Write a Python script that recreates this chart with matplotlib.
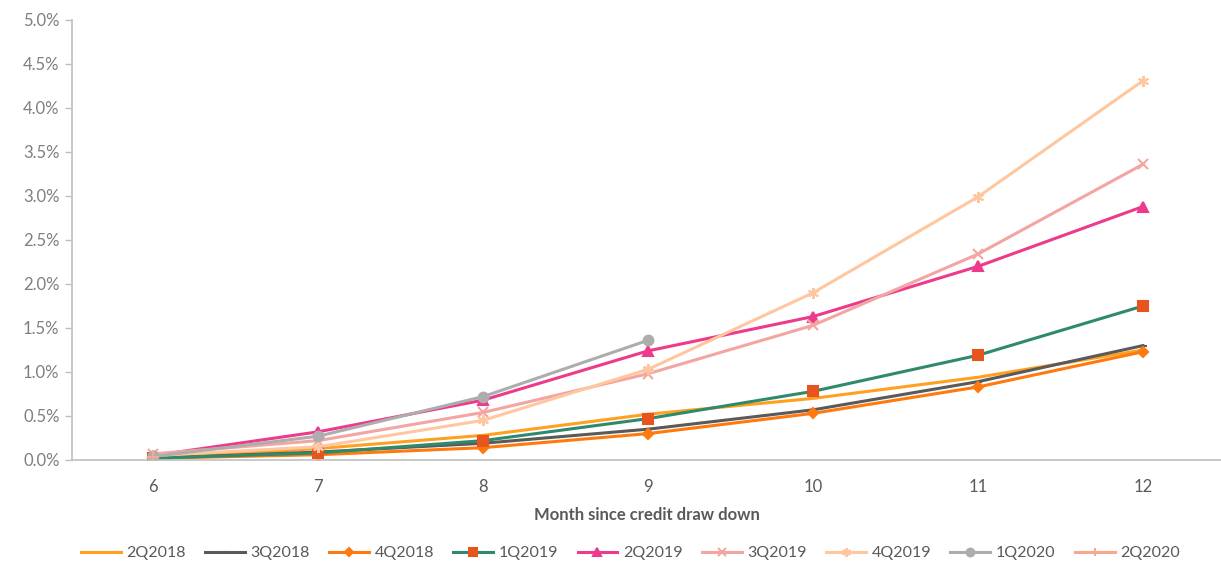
import matplotlib.pyplot as plt
from matplotlib.ticker import FuncFormatter

plt.rcParams['font.family'] = ['Lato', 'DejaVu Sans']

months = [6, 7, 8, 9, 10, 11, 12]

s_2q2018 = [0.02, 0.13, 0.28, 0.52, 0.70, 0.94, 1.25]
s_3q2018 = [0.02, 0.09, 0.19, 0.35, 0.57, 0.89, 1.30]
s_4q2018 = [0.02, 0.06, 0.14, 0.30, 0.53, 0.83, 1.23]
s_1q2019 = [0.02, 0.08, 0.22, 0.47, 0.78, 1.19, 1.75]
s_2q2019 = [0.05, 0.32, 0.68, 1.24, 1.63, 2.20, 2.88]
s_3q2019 = [0.07, 0.22, 0.54, 0.98, 1.53, 2.34, 3.36]
s_4q2019 = [0.05, 0.15, 0.45, 1.03, 1.90, 2.99, 4.31]
s_1q2020 = [0.04, 0.27, 0.72, 1.36]
s_2q2020 = [0.03]

series = [
    ('2Q2018', s_2q2018, '#FFA020', '#FFA020', '_', 6),
    ('3Q2018', s_3q2018, '#5A5A5A', '#5A5A5A', '_', 6),
    ('4Q2018', s_4q2018, '#FF7A0E', '#FF7A0E', 'D', 5),
    ('1Q2019', s_1q2019, '#2F8A6C', '#E8541E', 's', 7),
    ('2Q2019', s_2q2019, '#EE3A8A', '#EE3A8A', '^', 7),
    ('3Q2019', s_3q2019, '#F3A5A2', '#F3A5A2', 'x', 7),
    ('4Q2019', s_4q2019, '#FFC7A0', '#FFC7A0', (6, 2, 0), 8),
    ('1Q2020', s_1q2020, '#ADADAD', '#ADADAD', 'o', 7),
    ('2Q2020', s_2q2020, '#F8A88E', '#F8A88E', '+', 8),
]

fig = plt.figure(figsize=(12.21, 5.64), dpi=100, facecolor='white')
ax = fig.add_axes([72 / 1221, 1 - 460 / 564, 1 - 72 / 1221, 440 / 564])

for name, vals, lc, mc, mk, ms in series:
    ax.plot(months[:len(vals)], vals, color=lc, lw=2.2, marker=mk, markersize=ms,
            markerfacecolor=mc, markeredgecolor=mc, markeredgewidth=1.5, label=name)

ax.set_xlim(5.509, 12.473)
ax.set_ylim(0, 5.0)
ax.set_xticks(months)
ax.set_yticks([i * 0.5 for i in range(11)])
ax.yaxis.set_major_formatter(FuncFormatter(lambda v, p: f'{v:.1f}%'))

for side in ['top', 'right']:
    ax.spines[side].set_visible(False)
for side in ['left', 'bottom']:
    ax.spines[side].set_color('#BFBFBF')
    ax.spines[side].set_linewidth(1.2)
ax.tick_params(axis='y', colors='#BFBFBF', labelcolor='#7F7F7F', labelsize=12,
               length=5, width=1, pad=4)
ax.tick_params(axis='x', length=0, labelcolor='#595959', labelsize=12, pad=14)

ax.set_xlabel('Month since credit draw down', fontsize=12, fontweight='bold',
              color='#595959', labelpad=8)

leg = ax.legend(loc='center', bbox_to_anchor=(0.486, -0.212), ncol=9, frameon=False,
                fontsize=11.5, labelcolor='#595959', handlelength=2.5, columnspacing=1.2,
                handletextpad=0.35, markerscale=0.8)

fig.savefig('out.png', dpi=100, facecolor='white')
